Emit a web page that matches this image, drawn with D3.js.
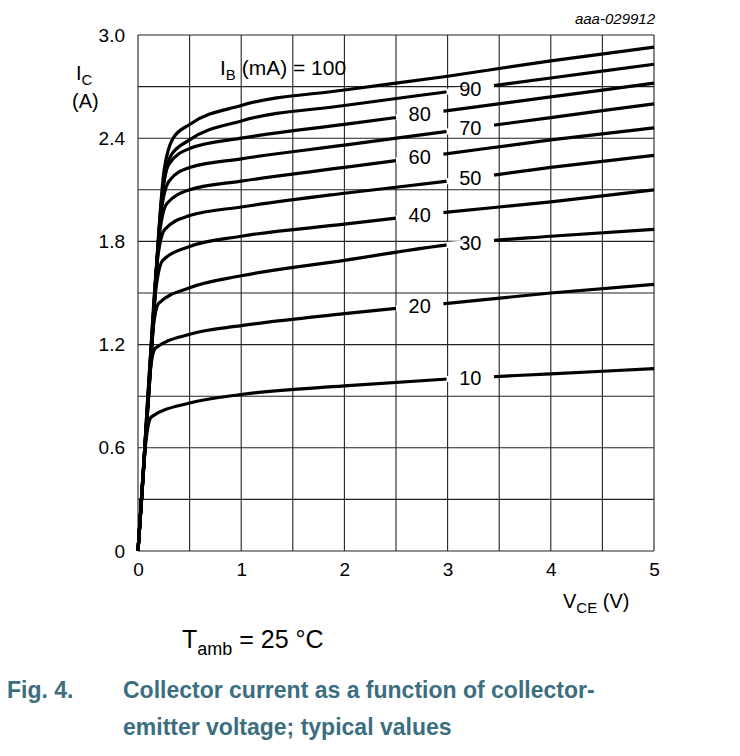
<!DOCTYPE html>
<html><head><meta charset="utf-8">
<script src="https://cdn.jsdelivr.net/npm/d3@7"></script>
<style>body{margin:0;background:#fff}text{font-family:"Liberation Sans",Arial,sans-serif}</style>
</head><body><svg id="c" width="740" height="756"></svg>
<script>
// V_CE points (V) and I_C values (A) per base current curve
const ibLabels = [100, 90, 80, 70, 60, 50, 40, 30, 20, 10];
const vce = [
  [0, 0.12, 0.25, 0.34, 0.5, 1, 2, 3, 4, 5],
  [0, 0.12, 0.24, 0.32, 0.5, 1, 2, 3, 4, 5],
  [0, 0.11, 0.23, 0.30, 0.5, 1, 2, 3, 4, 5],
  [0, 0.11, 0.22, 0.30, 0.5, 1, 2, 3, 4, 5],
  [0, 0.10, 0.20, 0.28, 0.5, 1, 2, 3, 4, 5],
  [0, 0.09, 0.18, 0.26, 0.5, 1, 2, 3, 4, 5],
  [0, 0.08, 0.16, 0.24, 0.5, 1, 2, 3, 4, 5],
  [0, 0.06, 0.13, 0.20, 0.5, 1, 2, 3, 4, 5],
  [0, 0.05, 0.11, 0.17, 0.5, 1, 2, 3, 4, 5],
  [0, 0.035, 0.07, 0.13, 0.5, 1, 2, 3, 4, 5]
];
const ic = [
  [0, 1.05, 2.20, 2.40, 2.48, 2.59, 2.68, 2.76, 2.85, 2.93],
  [0, 1.05, 2.10, 2.30, 2.39, 2.50, 2.59, 2.67, 2.75, 2.83],
  [0, 0.98, 2.05, 2.25, 2.34, 2.40, 2.48, 2.56, 2.64, 2.72],
  [0, 0.98, 1.95, 2.15, 2.23, 2.28, 2.36, 2.44, 2.52, 2.60],
  [0, 0.90, 1.80, 2.02, 2.10, 2.15, 2.23, 2.31, 2.39, 2.46],
  [0, 0.82, 1.65, 1.87, 1.95, 2.00, 2.08, 2.15, 2.23, 2.30],
  [0, 0.72, 1.45, 1.69, 1.77, 1.83, 1.90, 1.97, 2.03, 2.10],
  [0, 0.55, 1.20, 1.44, 1.53, 1.60, 1.69, 1.78, 1.83, 1.87],
  [0, 0.45, 1.00, 1.18, 1.26, 1.31, 1.38, 1.44, 1.50, 1.55],
  [0, 0.30, 0.60, 0.78, 0.86, 0.91, 0.96, 1.00, 1.03, 1.06]
];
// label position along each curve (V)
const labelV = [null, 3.22, 2.73, 3.22, 2.73, 3.22, 2.73, 3.22, 2.73, 3.22];
const xTicks = [0, 1, 2, 3, 4, 5];
const yTicks = [0, 0.6, 1.2, 1.8, 2.4, 3.0];

const svg = d3.select("#c");
const x = d3.scaleLinear().domain([0, 5]).range([138, 654]);
const y = d3.scaleLinear().domain([0, 3]).range([551, 35]);

const grid = svg.append("g").attr("stroke", "#222").attr("stroke-width", 1.1);
d3.range(0, 5.01, 0.5).forEach(v => grid.append("line")
  .attr("x1", x(v)).attr("x2", x(v)).attr("y1", y(0)).attr("y2", y(3)));
d3.range(0, 3.01, 0.3).forEach(v => grid.append("line")
  .attr("x1", x(0)).attr("x2", x(5)).attr("y1", y(v)).attr("y2", y(v)));

svg.append("g").attr("transform", "translate(0,551)")
  .call(d3.axisBottom(x).tickValues(xTicks).tickSize(0).tickPadding(12).tickFormat(d3.format("d")))
  .call(g => g.select(".domain").remove())
  .selectAll("text").attr("font-size", 19).attr("fill", "#000");
svg.append("g").attr("transform", "translate(138,0)")
  .call(d3.axisLeft(y).tickValues(yTicks).tickSize(0).tickPadding(13).tickFormat(d => d === 0 ? "0" : d3.format(".1f")(d)))
  .call(g => g.select(".domain").remove())
  .selectAll("text").attr("font-size", 19).attr("fill", "#000");

const line = d3.line().x(d => x(d[0])).y(d => y(d[1])).curve(d3.curveMonotoneX);
ic.forEach((row, i) => {
  const pts = row.map((v, j) => [vce[i][j], v]);
  svg.append("path").datum(pts).attr("d", line)
    .attr("fill", "none").attr("stroke", "#000").attr("stroke-width", 3.2);
});

// curve labels with gaps cut in the curve
labelV.forEach((lv, i) => {
  if (lv === null) return;
  const f = d3.scaleLinear().domain(vce[i].slice(4)).range(ic[i].slice(4));
  const a = lv - 0.23, b = lv + 0.23;
  svg.append("line").attr("x1", x(a)).attr("y1", y(f(a))).attr("x2", x(b)).attr("y2", y(f(b)))
    .attr("stroke", "#fff").attr("stroke-width", 6);
  svg.append("text").attr("x", x(lv)).attr("y", y(f(lv)) + 7)
    .attr("text-anchor", "middle").attr("font-size", 20).text(ibLabels[i]);
});

const t1 = svg.append("text").attr("x", 220).attr("y", 75).attr("font-size", 21);
t1.append("tspan").text("I");
t1.append("tspan").attr("font-size", 15).attr("dy", 5).text("B");
t1.append("tspan").attr("dy", -5).text(" (mA) = 100");

const ylab = svg.append("text").attr("x", 76).attr("y", 80).attr("font-size", 20);
ylab.append("tspan").text("I");
ylab.append("tspan").attr("font-size", 15).attr("dy", 5).text("C");
svg.append("text").attr("x", 72).attr("y", 108).attr("font-size", 20).text("(A)");

const xlab = svg.append("text").attr("x", 563).attr("y", 608).attr("font-size", 20);
xlab.append("tspan").text("V");
xlab.append("tspan").attr("font-size", 15).attr("dy", 5).text("CE");
xlab.append("tspan").attr("dy", -5).text(" (V)");

svg.append("text").attr("x", 655).attr("y", 24).attr("text-anchor", "end")
  .attr("font-size", 15).attr("font-style", "italic").text("aaa-029912");

const ta = svg.append("text").attr("x", 182).attr("y", 648).attr("font-size", 25);
ta.append("tspan").text("T");
ta.append("tspan").attr("font-size", 18).attr("dy", 7).text("amb");
ta.append("tspan").attr("dy", -7).text(" = 25 °C");

const cap = svg.append("g").attr("fill", "#3b6e7e").attr("font-weight", "bold").attr("font-size", 23);
cap.append("text").attr("x", 7).attr("y", 698).text("Fig. 4.");
cap.append("text").attr("x", 123).attr("y", 698).text("Collector current as a function of collector-");
cap.append("text").attr("x", 123).attr("y", 735).text("emitter voltage; typical values");
</script></body></html>
